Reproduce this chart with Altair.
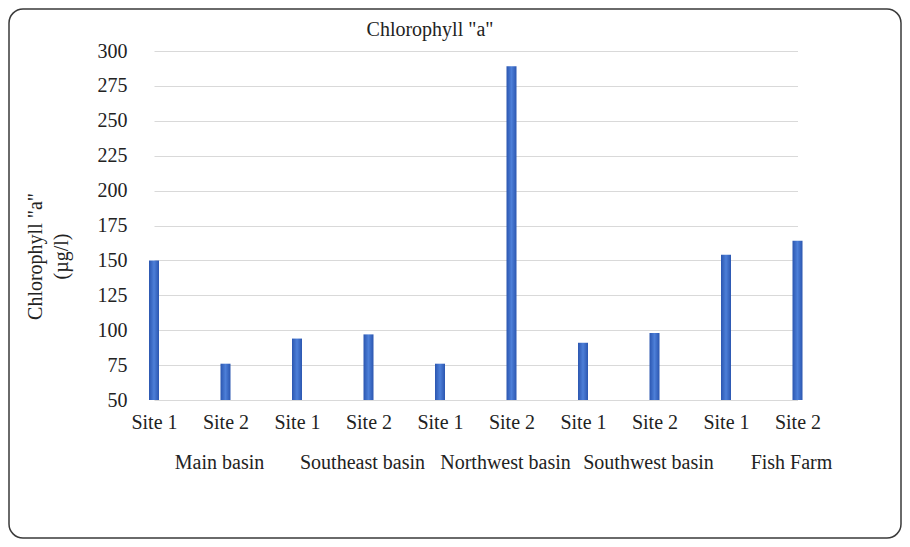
import altair as alt
import pandas as pd

groups = ["Main basin", "Southeast basin", "Northwest basin", "Southwest basin", "Fish Farm"]
sites = ["Site 1", "Site 2"]
values = [150, 76, 94, 97, 76, 289, 91, 98, 154, 164]
y_ticks = [50, 75, 100, 125, 150, 175, 200, 225, 250, 275, 300]
chart_title = 'Chlorophyll "a"'

rows = []
i = 0
for g in groups:
    for s in sites:
        rows.append({"key": f"{g}|{s}", "group": g, "site": s, "value": values[i],
                     "first": s == "Site 2"})
        i += 1
df = pd.DataFrame(rows)
order = list(df["key"])

FONT = "Liberation Serif"
W, H = 711, 349

xscale = alt.Scale(type="point", range=[7, 650.5], padding=0)
x_enc = alt.X("key:N", sort=order, scale=xscale,
              axis=alt.Axis(title=None, labelExpr="split(datum.label, '|')[1]",
                            labelAngle=0, labelFont=FONT, labelFontSize=20,
                            labelColor="#222", labelPadding=12, ticks=False,
                            domain=False, grid=False))

grad = alt.Gradient(gradient="linear", x1=0, x2=1, y1=0, y2=0,
                    stops=[alt.GradientStop(color="#2b56b0", offset=0),
                           alt.GradientStop(color="#4d7fd8", offset=0.5),
                           alt.GradientStop(color="#2b56b0", offset=1)])

bars = alt.Chart(df).mark_bar(size=10, color=grad).encode(
    x=x_enc,
    y=alt.Y("value:Q", scale=alt.Scale(domain=[50, 300], zero=False, nice=False),
            axis=alt.Axis(values=y_ticks, title=['Chlorophyll "a"', "(µg/l)"],
                          titleFont=FONT, titleFontSize=20, titleFontWeight="normal",
                          titleColor="#222", titleAngle=-90, titleX=-122, titleY=205,
                          titleAlign="center", titleBaseline="top", titleLineHeight=26,
                          labelFont=FONT, labelFontSize=20, labelColor="#222",
                          labelPadding=20, ticks=False, domain=False,
                          gridColor="#d9d9d9", gridWidth=1)),
    y2=alt.datum(50),
)

group_labels = alt.Chart(df[df["first"]]).mark_text(
    font=FONT, fontSize=20, color="#222", baseline="middle", align="center", dx=-6
).encode(
    x=alt.X("key:N", sort=order, scale=xscale),
    y=alt.value(412),
    text="group:N",
)

title_text = alt.Chart(pd.DataFrame({"t": [chart_title]})).mark_text(
    font=FONT, fontSize=20, color="#222", baseline="middle", align="center"
).encode(
    x=alt.value(283), y=alt.value(-21), text="t:N"
)

frame = alt.Chart(pd.DataFrame({"a": [0]})).mark_rect(
    fill="transparent", stroke="#3a3a3a", strokeWidth=1.5, cornerRadius=14
).encode(
    x=alt.value(-138), x2=alt.value(754), y=alt.value(-42), y2=alt.value(487)
)

chart = alt.layer(frame, bars, group_labels, title_text).properties(
    width=W, height=H,
    autosize=alt.AutoSizeParams(type="none"),
    padding={"left": 139, "top": 43, "right": 44, "bottom": 139},
    background="white",
).configure_view(stroke=None)

chart.save("out.html", embed_options={"renderer": "svg", "actions": False})
